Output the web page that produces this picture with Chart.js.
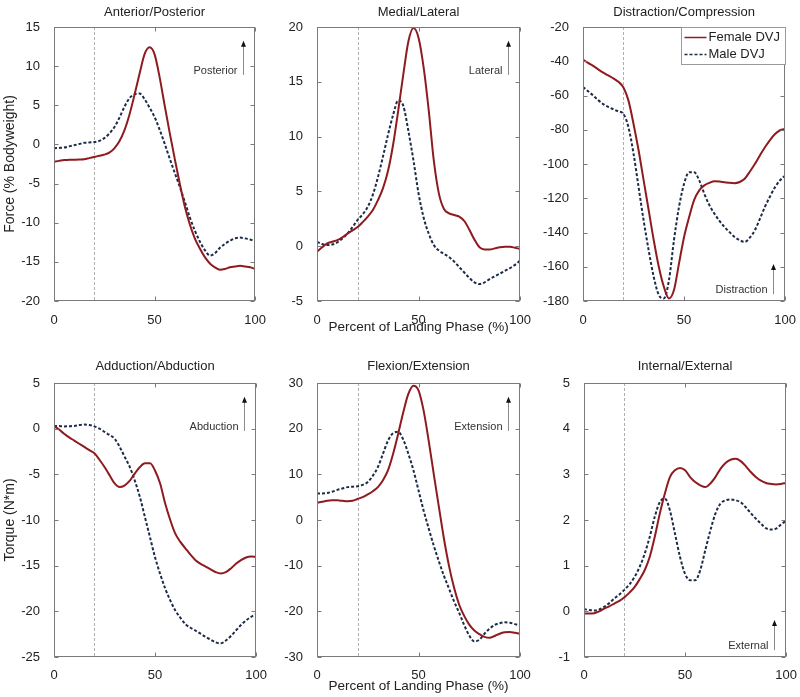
<!DOCTYPE html>
<html><head><meta charset="utf-8">
<script src="https://cdn.jsdelivr.net/npm/chart.js@4.4.0/dist/chart.umd.min.js"></script>
<style>
html,body{margin:0;padding:0;background:#fff;width:800px;height:697px;overflow:hidden;position:relative}
canvas{position:absolute}
</style></head><body>
<script>
// ---- DATA ----
const X = [0,2.5,5,7.5,10,12.5,15,17.5,20,22.5,25,27.5,30,32.5,35,37.5,40,42.5,45,47.5,50,52.5,55,57.5,60,62.5,65,67.5,70,72.5,75,77.5,80,82.5,85,87.5,90,92.5,95,97.5,100];
const seriesNames = ['Female DVJ','Male DVJ'];
const xTicks = [0,50,100];

const apFemale = [-2.2,-2.1,-2.0,-1.97,-1.95,-1.93,-1.9,-1.75,-1.6,-1.45,-1.3,-1.05,-0.5,0.4,1.8,3.8,6.3,9.0,11.5,12.4,11.5,8.6,5.0,1.5,-1.8,-5.0,-7.9,-10.2,-12.0,-13.3,-14.4,-15.2,-15.7,-16.0,-15.9,-15.7,-15.6,-15.5,-15.6,-15.7,-15.9];
const apMale = [-0.5,-0.45,-0.4,-0.25,-0.1,0.05,0.2,0.25,0.3,0.45,0.8,1.4,2.2,3.4,4.8,5.9,6.4,6.5,5.8,4.7,3.5,1.9,0.1,-1.8,-3.6,-5.4,-7.3,-9.3,-11.0,-12.4,-13.5,-14.2,-13.9,-13.2,-12.7,-12.3,-12.0,-11.9,-12.0,-12.15,-12.4];

const mlFemale = [-0.5,-0.1,0.25,0.4,0.55,0.8,1.15,1.45,1.75,2.2,2.7,3.3,4.2,5.3,6.9,9.3,12.4,15.7,18.7,19.9,19.0,16.3,12.4,7.8,4.8,3.4,3.0,2.85,2.7,2.3,1.5,0.6,-0.1,-0.3,-0.3,-0.2,-0.1,-0.05,-0.05,-0.15,-0.25];
const mlMale = [0.4,0.2,0.1,0.15,0.35,0.7,1.15,1.75,2.4,2.9,3.6,4.7,6.3,8.2,10.2,12.0,13.3,12.8,10.5,7.8,4.8,2.6,1.15,0.1,-0.4,-0.7,-1.0,-1.4,-1.9,-2.4,-2.9,-3.3,-3.45,-3.3,-3.0,-2.75,-2.5,-2.25,-2.0,-1.7,-1.3];

const dcFemale = [-39,-41,-42.7,-44.7,-46.6,-48.3,-50,-52,-55.3,-63,-76.6,-92,-109.6,-127,-144.5,-160,-171.7,-178.5,-173.6,-158,-142.6,-131,-121,-115.4,-112.5,-111,-110,-110.2,-110.6,-111,-111.2,-110.5,-108.6,-104.5,-100,-95,-90.2,-86,-82.5,-80.3,-79.5];
const dcMale = [-55,-57.5,-60,-62.7,-65,-66.7,-68,-69.3,-70.8,-78.6,-94,-113.5,-133,-150.5,-166,-176.5,-178.5,-168,-144.5,-125,-111.5,-104.8,-104.8,-109.6,-117.4,-124,-129,-133.2,-136.8,-139.8,-142.6,-144.5,-145.5,-143,-138.7,-132,-125,-119,-113.5,-109.5,-106.7];

const aaFemale = [0.3,-0.1,-0.55,-0.95,-1.3,-1.65,-2.0,-2.35,-2.7,-3.4,-4.2,-5.1,-6.0,-6.4,-6.2,-5.7,-4.9,-4.2,-3.8,-3.8,-4.6,-6.0,-8.2,-10.0,-11.5,-12.4,-13.1,-13.8,-14.4,-14.8,-15.1,-15.4,-15.7,-15.85,-15.7,-15.3,-14.8,-14.4,-14.1,-14.0,-14.05];
const aaMale = [0.3,0.28,0.25,0.27,0.3,0.4,0.45,0.4,0.25,0.0,-0.35,-0.7,-1.1,-2.0,-3.1,-4.2,-5.7,-7.5,-9.7,-11.9,-14.1,-15.9,-17.5,-18.8,-19.9,-20.7,-21.4,-21.8,-22.1,-22.45,-22.8,-23.1,-23.4,-23.5,-23.2,-22.7,-22.1,-21.5,-21.0,-20.6,-20.3];

const feFemale = [3.8,4.0,4.2,4.3,4.3,4.2,4.1,4.2,4.6,5.0,5.6,6.3,7.2,8.7,10.9,14.5,18.9,23.6,27.6,29.4,28.4,24.0,17.4,10.1,3.0,-4.0,-10.0,-14.8,-18.5,-21.0,-22.9,-24.2,-25.0,-25.6,-25.8,-25.4,-24.9,-24.6,-24.5,-24.7,-24.9];
const feMale = [5.8,5.8,5.9,6.2,6.6,6.9,7.2,7.3,7.4,7.7,8.3,9.7,11.6,14.5,17.4,19.0,19.3,17.6,14.5,10.9,6.5,2.1,-1.8,-5.6,-9.0,-12.2,-15.0,-17.8,-20.3,-23.0,-25.3,-26.6,-26.2,-24.9,-23.8,-23.0,-22.6,-22.4,-22.5,-22.8,-23.1];

const ieFemale = [-0.05,-0.05,-0.04,0.0,0.06,0.11,0.17,0.23,0.31,0.41,0.53,0.7,0.9,1.19,1.63,2.14,2.58,2.94,3.09,3.14,3.09,2.94,2.83,2.76,2.72,2.8,2.94,3.12,3.25,3.32,3.34,3.29,3.18,3.05,2.94,2.86,2.81,2.79,2.78,2.79,2.81];
const ieMale = [0.05,0.03,0.02,0.04,0.1,0.18,0.28,0.37,0.47,0.59,0.75,0.97,1.26,1.63,2.07,2.39,2.47,2.21,1.7,1.19,0.82,0.68,0.68,0.9,1.34,1.77,2.14,2.36,2.43,2.45,2.43,2.39,2.28,2.15,2.03,1.92,1.82,1.79,1.81,1.9,1.99];

const panelTitles = ['Anterior/Posterior','Medial/Lateral','Distraction/Compression','Adduction/Abduction','Flexion/Extension','Internal/External'];
const directionLabels = ['Posterior','Lateral','Distraction','Abduction','Extension','External'];
const yRanges = [[-20,15,5],[-5,20,5],[-180,-20,20],[-25,5,5],[-30,30,10],[-1,5,1]];
const yTitles = ['Force (% Bodyweight)','','','Torque (N*m)','',''];
const xTitleText = 'Percent of Landing Phase (%)';
const landingMark = 20;

// ---- STYLE / LAYOUT ----
const FONT = '"Liberation Sans", Arial, sans-serif';
const RED = '#8e1b1f';
const BLUE = '#1c2b47';
const femaleSets = [apFemale, mlFemale, dcFemale, aaFemale, feFemale, ieFemale];
const maleSets = [apMale, mlMale, dcMale, aaMale, feMale, ieMale];

const layouts = [
  {left:0,   top:0,   w:270, h:340, yW:54, padR:12, row:0, xTitle:false, arrow:'top'},
  {left:265, top:0,   w:270, h:340, yW:52, padR:14, row:0, xTitle:true,  arrow:'top'},
  {left:530, top:0,   w:270, h:340, yW:53, padR:13, row:0, xTitle:false, arrow:'bottom', legend:true},
  {left:0,   top:340, w:270, h:357, yW:54, padR:12, row:1, xTitle:false, arrow:'top'},
  {left:265, top:340, w:270, h:357, yW:52, padR:15, row:1, xTitle:true,  arrow:'top'},
  {left:530, top:340, w:270, h:357, yW:54, padR:13, row:1, xTitle:false, arrow:'bottom'}
];

const framePlugin = {
  id: 'frame',
  afterLayout(chart) {
    const t = chart.titleBlock, a = chart.chartArea;
    if (t) { t.left = a.left; t.right = a.right; t.width = a.right - a.left; }
  },
  beforeDatasetsDraw(chart, args, opts) {
    const ctx = chart.ctx, a = chart.chartArea, xs = chart.scales.x;
    const px = xs.getPixelForValue(opts.mark);
    ctx.save();
    ctx.strokeStyle = '#b0b0b0'; ctx.lineWidth = 1; ctx.setLineDash([3,2]);
    ctx.beginPath(); ctx.moveTo(Math.round(px)+0.5, a.top); ctx.lineTo(Math.round(px)+0.5, a.bottom); ctx.stroke();
    ctx.restore();
  },
  afterDraw(chart, args, opts) {
    const ctx = chart.ctx, a = chart.chartArea, xs = chart.scales.x, ys = chart.scales.y;
    ctx.save();
    // frame
    ctx.strokeStyle = '#7a7a7a'; ctx.lineWidth = 1; ctx.setLineDash([]);
    const L = Math.round(a.left)+0.5, R = Math.round(a.right)-0.5, T = Math.round(a.top)+0.5, B = Math.round(a.bottom)-0.5;
    ctx.strokeRect(L, T, R-L, B-T);
    // inward ticks
    ctx.beginPath();
    ys.ticks.forEach(t => { const y = Math.round(ys.getPixelForValue(t.value))+0.5; ctx.moveTo(L, y); ctx.lineTo(L+4, y); ctx.moveTo(R, y); ctx.lineTo(R-4, y); });
    xs.ticks.forEach(t => { const x = Math.round(xs.getPixelForValue(t.value))+0.5; ctx.moveTo(x, B); ctx.lineTo(x, B-4); ctx.moveTo(x, T); ctx.lineTo(x, T+4); });
    ctx.stroke();
    // direction arrow
    const w = a.right - a.left, h = a.bottom - a.top;
    const ax = Math.round(a.left + 0.94*w) + 0.5;
    let tip, base;
    if (opts.arrow === 'top') { tip = a.top + 0.05*h; base = a.top + 0.175*h; }
    else { tip = a.top + 0.865*h; base = a.top + 0.975*h; }
    ctx.strokeStyle = '#8a8a8a'; ctx.lineWidth = 1;
    ctx.beginPath(); ctx.moveTo(ax, base); ctx.lineTo(ax, tip+3); ctx.stroke();
    ctx.fillStyle = '#111';
    ctx.beginPath(); ctx.moveTo(ax, tip); ctx.lineTo(ax-2.5, tip+6); ctx.lineTo(ax+2.5, tip+6); ctx.closePath(); ctx.fill();
    ctx.font = '11px ' + FONT; ctx.fillStyle = '#333'; ctx.textAlign = 'right'; ctx.textBaseline = 'middle';
    ctx.fillText(opts.label, ax - 6, base - 4);
    // legend
    if (opts.legend) {
      const bw = 104, bh = 37, bx = Math.round(a.right - bw) + 0.5, by = Math.round(a.top) + 0.5;
      ctx.fillStyle = '#fff'; ctx.fillRect(bx, by, bw, bh);
      ctx.strokeStyle = '#9a9a9a'; ctx.strokeRect(bx, by, bw, bh);
      const ds = chart.data.datasets;
      ds.forEach((d, i) => {
        const yy = by + 10 + i*17;
        ctx.strokeStyle = d.borderColor; ctx.lineWidth = 1.5; ctx.setLineDash(d.borderDash || []);
        ctx.beginPath(); ctx.moveTo(bx + 3, yy); ctx.lineTo(bx + 25, yy); ctx.stroke();
        ctx.setLineDash([]);
        ctx.fillStyle = '#222'; ctx.textAlign = 'left'; ctx.font = '13px ' + FONT;
        ctx.fillText(d.label, bx + 27, yy);
      });
    }
    ctx.restore();
  }
};

layouts.forEach((p, k) => {
  const c = document.createElement('canvas');
  c.width = p.w; c.height = p.h;
  c.style.left = p.left + 'px'; c.style.top = p.top + 'px';
  c.style.width = p.w + 'px'; c.style.height = p.h + 'px';
  document.body.appendChild(c);
  const [ymin, ymax, ystep] = yRanges[k];
  new Chart(c, {
    type: 'line',
    data: {
      datasets: [
        {label: seriesNames[0], data: X.map((x, i) => ({x, y: femaleSets[k][i]})), borderColor: RED, borderWidth: 2, pointRadius: 0, cubicInterpolationMode: 'monotone', fill: false},
        {label: seriesNames[1], data: X.map((x, i) => ({x, y: maleSets[k][i]})), borderColor: BLUE, borderWidth: 2, borderDash: [3,2], pointRadius: 0, cubicInterpolationMode: 'monotone', fill: false}
      ]
    },
    options: {
      responsive: false, animation: false, devicePixelRatio: 1,
      layout: {padding: {left: 0, right: p.padR, top: 0, bottom: 0}},
      plugins: {
        legend: {display: false}, tooltip: {enabled: false},
        title: {display: true, text: panelTitles[k], color: '#222', font: {family: FONT, size: 13, weight: 'normal'},
                padding: p.row === 0 ? {top: 4.5, bottom: 6.9} : {top: 19, bottom: 8.4}},
        frame: {mark: landingMark, arrow: p.arrow, label: directionLabels[k], legend: !!p.legend}
      },
      scales: {
        x: {type: 'linear', min: 0, max: 100,
            afterBuildTicks: s => { s.ticks = xTicks.map(v => ({value: v})); },
            ticks: {color: '#222', font: {family: FONT, size: 13}, padding: p.row === 0 ? 4 : 3, maxRotation: 0, autoSkip: false},
            grid: {display: false}, border: {display: false},
            title: {display: p.xTitle, text: xTitleText, color: '#222', font: {family: FONT, size: 13.5}, padding: {top: 0, bottom: p.row === 0 ? 5 : 3}},
            afterFit: s => { s.height = p.row === 0 ? 39 : 40; }},
        y: {min: ymin, max: ymax,
            ticks: {stepSize: ystep, color: '#222', font: {family: FONT, size: 13}, padding: 6},
            grid: {display: false}, border: {display: false},
            title: {display: !!yTitles[k], text: yTitles[k], color: '#222', font: {family: FONT, size: 14}, padding: {top: 2, bottom: 0}},
            afterFit: s => { s.width = p.yW; }}
      }
    },
    plugins: [framePlugin]
  });
});
</script>
</body></html>
